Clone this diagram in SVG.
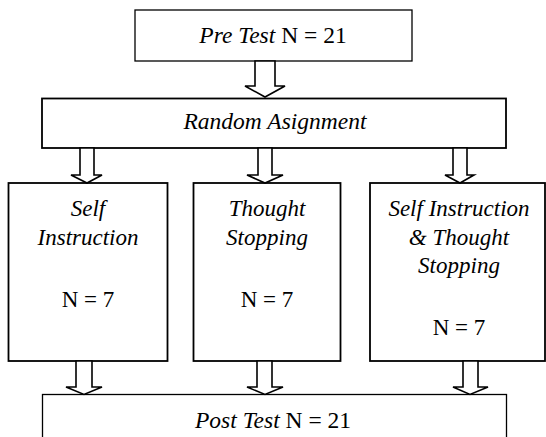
<svg xmlns="http://www.w3.org/2000/svg" width="546" height="437" viewBox="0 0 546 437">
<style>
.box{fill:#fff;stroke:#000;stroke-width:1.8}
.thin{fill:#fff;stroke:#000;stroke-width:1.3}
.arr{fill:#fff;stroke:#000;stroke-width:1.6;stroke-linejoin:miter}
text{font-family:"Liberation Serif","Times New Roman",serif;font-size:23px;fill:#000;text-anchor:middle}
.i{font-style:italic}
.w{font-size:23.5px}
</style>
<rect width="546" height="437" fill="#fff"/>
<g id="pretest">
<rect class="thin" x="135" y="10" width="277" height="51"/>
<text class="w" x="273" y="43"><tspan class="i">Pre Test</tspan> N = 21</text>
</g>
<g id="random">
<rect class="box" x="42" y="98.5" width="464" height="49.5"/>
<text class="i w" x="275" y="129">Random Asignment</text>
</g>
<g id="self">
<rect class="box" x="8.5" y="183" width="159" height="178"/>
<text class="i" x="88" y="216">Self</text>
<text class="i" x="88" y="244.5">Instruction</text>
<text x="88" y="307">N = 7</text>
</g>
<g id="thought">
<rect class="box" x="193.5" y="183" width="147" height="178"/>
<text class="i" x="267" y="216">Thought</text>
<text class="i" x="267" y="244.5">Stopping</text>
<text x="267" y="307">N = 7</text>
</g>
<g id="both">
<rect class="box" x="370" y="183" width="175" height="178"/>
<text class="i" x="459" y="216">Self Instruction</text>
<text class="i" x="459" y="244.5">&amp; Thought</text>
<text class="i" x="459" y="273">Stopping</text>
<text x="459" y="335">N = 7</text>
</g>
<g id="posttest">
<rect class="thin" x="42.5" y="394.5" width="464" height="60"/>
<text class="w" x="273" y="428"><tspan class="i">Post Test</tspan> N = 21</text>
</g>
<g id="connectors">
<polygon class="arr" points="255,61 275,61 275,86 285,86 265,97 245,86 255,86"/>
<polygon class="arr" points="80,148 94,148 94,175 102,175 87,183 71,175 80,175"/>
<polygon class="arr" points="258,148 272,148 272,175 283,175 265,183 247,175 258,175"/>
<polygon class="arr" points="453,148 467,148 467,175 474,175 460,183 445,175 453,175"/>
<polygon class="arr" points="76,361 92,361 92,387 102,387 84,394.5 66,387 76,387"/>
<polygon class="arr" points="257,361 272,361 272,387 283,387 265,394.5 247,387 257,387"/>
<polygon class="arr" points="463,361 478,361 478,387 488,387 470,394.5 453,387 463,387"/>
</g>
</svg>
